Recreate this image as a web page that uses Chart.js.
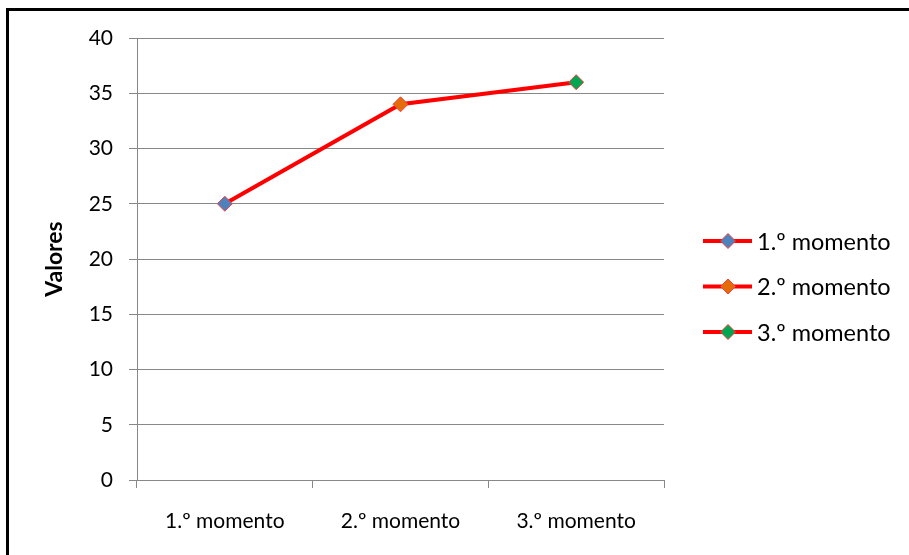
<!DOCTYPE html>
<html>
<head>
<meta charset="utf-8">
<script src="https://cdn.jsdelivr.net/npm/chart.js@4/dist/chart.umd.min.js"></script>
<style>
  html, body { margin: 0; padding: 0; background: #fff; }
  #wrap { position: relative; width: 909px; height: 555px; }
</style>
</head>
<body>
<div id="wrap"><canvas id="myChart" width="909" height="555"></canvas></div>
<script>
const categories = ['1.º momento', '2.º momento', '3.º momento'];
const values = [25, 34, 36];
const markerColors = ['#4F81BD', '#E46C0A', '#00A651'];
const yTicks = [0, 5, 10, 15, 20, 25, 30, 35, 40];

const FONT = 'Lato, "Open Sans", sans-serif';

// frame round the whole chart + legend on the right
const framePlugin = {
    id: 'frame',
    afterDraw(chart) {
        const ctx = chart.ctx;
        ctx.save();
        ctx.strokeStyle = '#000';
        ctx.lineWidth = 3;
        ctx.strokeRect(7.5, 9.5, 1200, 1200);

        const x0 = 703, x1 = 752, cx = 728;
        categories.forEach((label, i) => {
            const y = 241 + i * 45.5;
            ctx.strokeStyle = '#FF0000';
            ctx.lineWidth = 4;
            ctx.beginPath();
            ctx.moveTo(x0, y);
            ctx.lineTo(x1, y);
            ctx.stroke();
            ctx.fillStyle = markerColors[i];
            ctx.strokeStyle = '#F04040';
            ctx.lineWidth = 1;
            ctx.beginPath();
            ctx.moveTo(cx, y - 7.5);
            ctx.lineTo(cx + 7.5, y);
            ctx.lineTo(cx, y + 7.5);
            ctx.lineTo(cx - 7.5, y);
            ctx.closePath();
            ctx.fill();
            ctx.stroke();
            ctx.fillStyle = '#000';
            ctx.font = '23.5px ' + FONT;
            ctx.textBaseline = 'middle';
            ctx.textAlign = 'left';
            ctx.fillText(label, 757, y + 1);
        });
        ctx.restore();
    }
};

const chart = new Chart(document.getElementById('myChart'), {
    type: 'line',
    data: {
        labels: categories,
        datasets: [{
            data: values,
            borderColor: '#FF0000',
            borderWidth: 4,
            pointStyle: 'rectRot',
            pointRadius: 7.5,
            pointHoverRadius: 7.5,
            pointBackgroundColor: markerColors,
            pointBorderColor: '#F04040',
            pointBorderWidth: 1,
            tension: 0
        }]
    },
    options: {
        responsive: false,
        animation: false,
        layout: { padding: { top: 38, right: 245, left: 0, bottom: 0 } },
        plugins: {
            legend: { display: false },
            tooltip: { enabled: false }
        },
        scales: {
            x: {
                offset: true,
                grid: {
                    offset: true,
                    drawOnChartArea: false,
                    color: '#888',
                    tickLength: 8
                },
                border: { color: '#888' },
                ticks: {
                    color: '#000',
                    font: { family: FONT, size: 21 },
                    padding: 21,
                    maxRotation: 0
                },
                afterFit(scale) { scale.height = 75; }
            },
            y: {
                min: 0,
                max: 40,
                afterBuildTicks(scale) { scale.ticks = yTicks.map(v => ({ value: v })); },
                grid: { color: '#888', tickLength: 8 },
                border: { color: '#888' },
                ticks: {
                    color: '#000',
                    font: { family: FONT, size: 21 },
                    padding: 16
                },
                title: {
                    display: true,
                    text: 'Valores',
                    color: '#000',
                    font: { family: FONT, size: 23, weight: 'bold' },
                    padding: { top: 41, bottom: 0 }
                },
                afterFit(scale) { scale.width = 137; }
            }
        }
    },
    plugins: [framePlugin]
});
</script>
</body>
</html>
